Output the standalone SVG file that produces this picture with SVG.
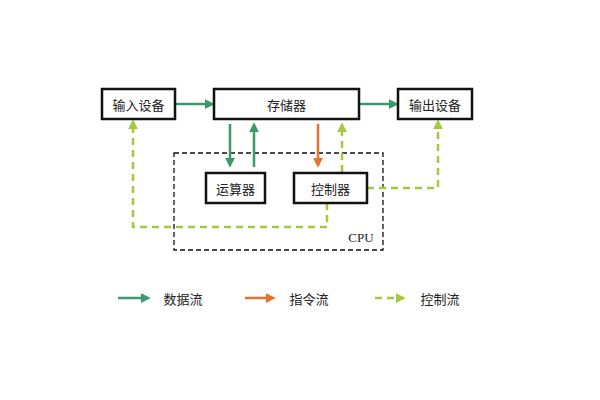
<svg xmlns="http://www.w3.org/2000/svg" width="600" height="400" viewBox="0 0 600 400">
<style>
.box{fill:#fff;stroke:#111;stroke-width:2.5}
.t{font-family:"Noto Sans CJK SC",sans-serif;font-size:13px;fill:#222;text-anchor:middle;dominant-baseline:central}
.g{stroke:#3b9a6b;stroke-width:2.5;fill:none}
.o{stroke:#e8722c;stroke-width:2.5;fill:none}
.d{stroke:#a5c93b;stroke-width:2.5;fill:none;stroke-dasharray:7,5}
</style>
<defs>
<marker id="mg" markerWidth="4" markerHeight="4" refX="2.5" refY="2" orient="auto"><path d="M0,0L4,2L0,4z" fill="#3b9a6b"/></marker>
<marker id="mo" markerWidth="4" markerHeight="4" refX="2.5" refY="2" orient="auto"><path d="M0,0L4,2L0,4z" fill="#e8722c"/></marker>
<marker id="md" markerWidth="4" markerHeight="4" refX="2.5" refY="2" orient="auto"><path d="M0,0L4,2L0,4z" fill="#a5c93b"/></marker>
</defs>
<rect x="174" y="153" width="209" height="97" fill="none" stroke="#111" stroke-width="1.3" stroke-dasharray="5,3"/>
<text x="361" y="237" font-family="Liberation Serif,serif" font-size="13" fill="#222" text-anchor="middle" dominant-baseline="central">CPU</text>
<g id="connectors">
<line class="g" x1="175" y1="104" x2="211" y2="104" marker-end="url(#mg)"/>
<line class="g" x1="359" y1="104" x2="395" y2="104" marker-end="url(#mg)"/>
<line class="g" x1="230" y1="124" x2="230" y2="164" marker-end="url(#mg)"/>
<line class="g" x1="254" y1="167" x2="254" y2="126" marker-end="url(#mg)"/>
<line class="o" x1="318" y1="124" x2="318" y2="164" marker-end="url(#mo)"/>
<line class="d" x1="342" y1="172" x2="342" y2="126" marker-end="url(#md)"/>
<polyline class="d" points="367,188 438,188 438,123" marker-end="url(#md)"/>
<polyline class="d" points="327,203 327,227 133,227 133,123" marker-end="url(#md)"/>
</g>
<g id="n1"><rect class="box" x="102" y="89" width="73" height="30"/><text class="t" x="138.5" y="104">输入设备</text></g>
<g id="n2"><rect class="box" x="214" y="89" width="145" height="30"/><text class="t" x="286.5" y="104">存储器</text></g>
<g id="n3"><rect class="box" x="398" y="89" width="74" height="30"/><text class="t" x="435" y="104">输出设备</text></g>
<g id="n4"><rect class="box" x="206" y="173" width="59" height="30"/><text class="t" x="235.5" y="188">运算器</text></g>
<g id="n5"><rect class="box" x="294" y="173" width="73" height="30"/><text class="t" x="330.5" y="188">控制器</text></g>
<g id="legend">
<line class="g" x1="118" y1="298" x2="147" y2="298" marker-end="url(#mg)"/>
<text class="t" x="183" y="298">数据流</text>
<line class="o" x1="245" y1="298" x2="272" y2="298" marker-end="url(#mo)"/>
<text class="t" x="309" y="298">指令流</text>
<line class="d" x1="375" y1="298" x2="402" y2="298" marker-end="url(#md)"/>
<text class="t" x="440" y="298">控制流</text>
</g>
</svg>
